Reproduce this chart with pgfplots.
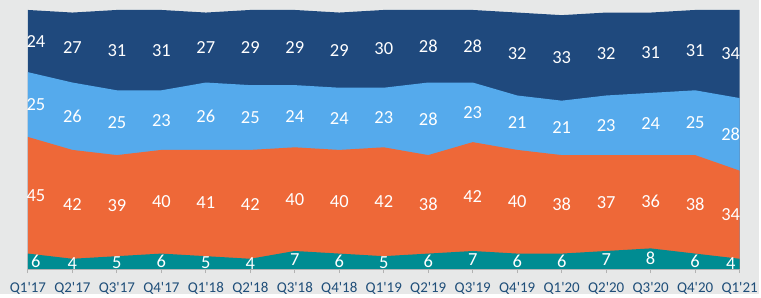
\documentclass[border=0pt]{standalone}
\usepackage{pgfplots}
\pgfplotsset{compat=1.18}
\usepackage{pgfplotstable}
\usepackage{fontspec}
\setmainfont{Carlito}
\definecolor{bg}{RGB}{231,232,232}
\definecolor{navy}{RGB}{31,73,125}
\definecolor{lblue}{RGB}{85,170,236}
\definecolor{orng}{RGB}{238,104,56}
\definecolor{teal2}{RGB}{0,140,146}
\definecolor{ticktxt}{RGB}{31,78,121}
\pgfplotstableread{
x a b c d
0 6 45 25 24
1 4 42 26 27
2 5 39 25 31
3 6 40 23 31
4 5 41 26 27
5 4 42 25 29
6 7 40 24 29
7 6 40 24 29
8 5 42 23 30
9 6 38 28 28
10 7 42 23 28
11 6 40 21 32
12 6 38 21 33
13 7 37 23 32
14 8 36 24 31
15 6 38 25 31
16 4 34 28 34
}\datatable
\begin{document}
\begin{tikzpicture}
\fill[bg] (0,0) rectangle (761pt,295pt);
\begin{axis}[
  at={(28pt,25pt)}, anchor=south west,
  scale only axis, width=714pt, height=260pt,
  xmin=0, xmax=16, ymin=0, ymax=100,
  axis x line*=bottom, axis y line=none,
  axis line style={draw=gray!60, line width=1pt},
  xtick={0,...,16},
  xticklabels={Q1\textquotesingle17,Q2\textquotesingle17,Q3\textquotesingle17,Q4\textquotesingle17,Q1\textquotesingle18,Q2\textquotesingle18,Q3\textquotesingle18,Q4\textquotesingle18,Q1\textquotesingle19,Q2\textquotesingle19,Q3\textquotesingle19,Q4\textquotesingle19,Q1\textquotesingle20,Q2\textquotesingle20,Q3\textquotesingle20,Q4\textquotesingle20,Q1\textquotesingle21},
  xticklabel style={font=\fontsize{15}{16}\selectfont, text=ticktxt, yshift=-5.5pt},
  tick align=outside, major tick length=4pt,
  xtick style={draw=gray!60, line width=1pt},
  clip=false,
  axis on top,
  label/.style={draw=none, mark=none, nodes near coords, point meta=explicit symbolic,
    nodes near coords style={white, anchor=center, font=\fontsize{18.5}{19}\selectfont}},
]
\addplot[draw=none, fill=navy] table[x=x, y expr=\thisrow{a}+\thisrow{b}+\thisrow{c}+\thisrow{d}] {\datatable} \closedcycle;
\addplot[draw=none, fill=lblue] table[x=x, y expr=\thisrow{a}+\thisrow{b}+\thisrow{c}] {\datatable} \closedcycle;
\addplot[draw=none, fill=orng] table[x=x, y expr=\thisrow{a}+\thisrow{b}] {\datatable} \closedcycle;
\addplot[draw=none, fill=teal2] table[x=x, y=a] {\datatable} \closedcycle;
\addplot[label] table[x expr={\thisrow{x}==0 ? 0.18 : (\thisrow{x}==16 ? 15.8 : \thisrow{x})}, y expr=\thisrow{a}/2, meta=a] {\datatable};
\addplot[label] table[x expr={\thisrow{x}==0 ? 0.18 : (\thisrow{x}==16 ? 15.8 : \thisrow{x})}, y expr=\thisrow{a}+\thisrow{b}/2, meta=b] {\datatable};
\addplot[label] table[x expr={\thisrow{x}==0 ? 0.18 : (\thisrow{x}==16 ? 15.8 : \thisrow{x})}, y expr=\thisrow{a}+\thisrow{b}+\thisrow{c}/2, meta=c] {\datatable};
\addplot[label] table[x expr={\thisrow{x}==0 ? 0.18 : (\thisrow{x}==16 ? 15.8 : \thisrow{x})}, y expr=\thisrow{a}+\thisrow{b}+\thisrow{c}+\thisrow{d}/2, meta=d] {\datatable};
\end{axis}
\end{tikzpicture}
\end{document}
